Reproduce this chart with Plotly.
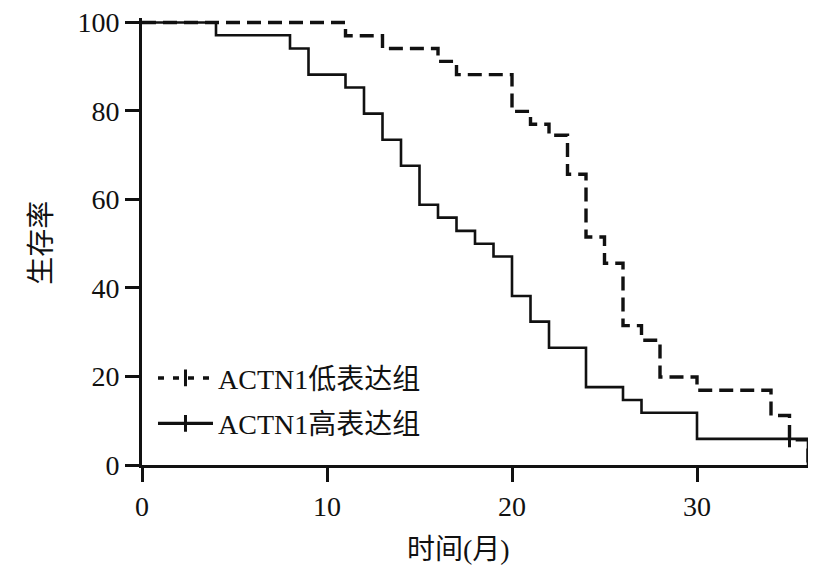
import plotly.graph_objects as go

# Data (time in months, survival in %)
low_time = [0, 11, 13, 16, 17, 20, 21, 22, 23, 24, 25, 26, 27, 28, 30, 34, 35, 36]
low_surv = [100, 97, 94.1, 91.2, 88.2, 79.9, 77.0, 74.5, 65.7, 51.5, 45.6, 31.5, 28.2, 19.9, 16.9, 11.2, 5.7, 0]

high_time = [0, 4, 8, 9, 11, 12, 13, 14, 15, 16, 17, 18, 19, 20, 21, 22, 24, 26, 27, 30, 36]
high_surv = [100, 97.1, 94.1, 88.2, 85.3, 79.4, 73.5, 67.6, 58.8, 55.9, 52.9, 50.0, 47.1, 38.2, 32.4, 26.5, 17.6, 14.7, 11.8, 5.9, 0]

censor_high_time = [35]
censor_high_surv = [5.9]

x_ticks = [0, 10, 20, 30]
y_ticks = [0, 20, 40, 60, 80, 100]

low_name = "ACTN1低表达组"
high_name = "ACTN1高表达组"
x_title = "时间(月)"
y_title = "生存率"

FONT = "Liberation Serif, Noto Sans CJK SC"
INK = "#111111"
DASH = "14px,7px"

fig = go.Figure()

fig.add_trace(go.Scatter(
    x=low_time, y=low_surv, mode="lines", line_shape="hv",
    line=dict(color=INK, width=3.4, dash=DASH), showlegend=False, hoverinfo="skip"))
fig.add_trace(go.Scatter(
    x=high_time, y=high_surv, mode="lines", line_shape="hv",
    line=dict(color=INK, width=2.6), showlegend=False, hoverinfo="skip"))
fig.add_trace(go.Scatter(
    x=censor_high_time, y=censor_high_surv, mode="markers",
    marker=dict(symbol="line-ns", size=12, line=dict(color=INK, width=3)),
    showlegend=False, hoverinfo="skip"))

# legend entries
fig.add_trace(go.Scatter(
    x=[None], y=[None], mode="lines+markers", name=low_name, legendgroup="a",
    line=dict(color=INK, width=3.4, dash="6px,9px"),
    marker=dict(symbol="line-ns", size=12, line=dict(color=INK, width=3))))
fig.add_trace(go.Scatter(
    x=[None], y=[None], mode="lines+markers", name=high_name, legendgroup="b",
    line=dict(color=INK, width=3.4),
    marker=dict(symbol="line-ns", size=12, line=dict(color=INK, width=3))))

axis_common = dict(
    showgrid=False, zeroline=False, showline=True, linecolor=INK, linewidth=3,
    ticks="outside", ticklen=14, tickwidth=3, tickcolor=INK,
    tickfont=dict(family=FONT, size=28, color=INK),
    ticklabeloverflow="allow", automargin=False,
)

fig.update_xaxes(range=[0, 36], tickvals=x_ticks, ticktext=[str(v) for v in x_ticks], **axis_common)
fig.update_yaxes(range=[0, 101], tickvals=y_ticks, ticktext=[str(v) for v in y_ticks], **axis_common)

fig.add_annotation(text=x_title, xref="paper", yref="paper", x=0.4745, y=-0.19,
                   showarrow=False, font=dict(family=FONT, size=28, color=INK),
                   xanchor="center", yanchor="middle")
fig.add_annotation(text=y_title, xref="paper", yref="paper", x=-0.152, y=0.4966,
                   showarrow=False, font=dict(family=FONT, size=28, color=INK),
                   textangle=-90, xanchor="center", yanchor="middle")

fig.update_layout(
    width=819, height=580,
    margin=dict(l=134, r=19, t=10, b=123, autoexpand=False),
    paper_bgcolor="white", plot_bgcolor="white",
    font=dict(family=FONT, color=INK),
    legend=dict(x=0.0165, y=0.25, xanchor="left", yanchor="top",
                font=dict(family=FONT, size=28, color=INK),
                bgcolor="rgba(0,0,0,0)", itemwidth=55,
                traceorder="grouped", tracegroupgap=6),
)

fig.write_html("out.html")
